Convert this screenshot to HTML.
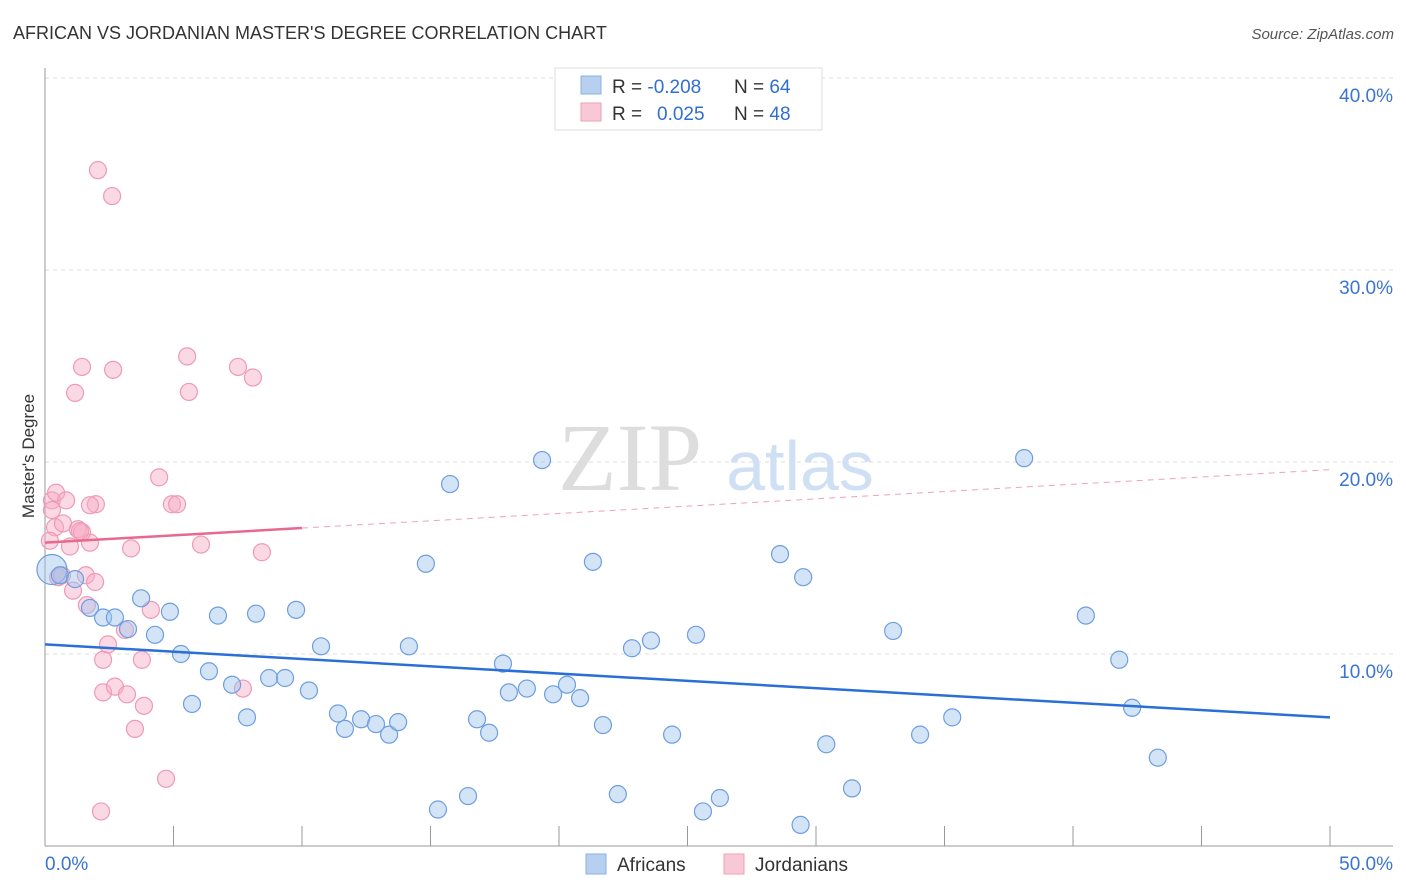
<!DOCTYPE html>
<html><head><meta charset="utf-8"><style>
body{margin:0;background:#fff;font-family:"Liberation Sans",sans-serif;}
svg{display:block}
</style></head><body>
<svg id="chart" width="1406" height="892">
<text x="13" y="39" font-size="18" fill="#333">AFRICAN VS JORDANIAN MASTER'S DEGREE CORRELATION CHART</text>
<text x="1394" y="39" font-size="15" fill="#555" font-style="italic" text-anchor="end">Source: ZipAtlas.com</text>
<g id="grid"></g>
<text x="630" y="490" font-size="96" fill="#ddd" font-family="Liberation Serif" text-anchor="middle">ZIP</text>
<text x="800" y="490" font-size="70" fill="#cfe0f4" text-anchor="middle">atlas</text>
<g id="pts"></g>
<g id="lines"></g>
<text transform="translate(34,456) rotate(-90)" font-size="17" fill="#333" text-anchor="middle">Master's Degree</text>
<g>
<rect x="555" y="68" width="267" height="62" fill="#fff" stroke="#ddd"/>
<rect x="581" y="76" width="20" height="18" fill="#b8d0f0" stroke="#8ab0e0"/>
<rect x="581" y="103" width="20" height="18" fill="#f8c8d6" stroke="#f0a0b8"/>
<text x="612" y="93" font-size="19" fill="#333">R = <tspan fill="#2f6fd0">-0.208</tspan><tspan x="734">N = </tspan><tspan fill="#2f6fd0">64</tspan></text>
<text x="612" y="120" font-size="19" fill="#333">R = <tspan x="657" fill="#2f6fd0">0.025</tspan><tspan x="734">N = </tspan><tspan fill="#2f6fd0">48</tspan></text>
</g>
<g>
<rect x="586" y="854" width="20" height="20" fill="#b8d0f0" stroke="#8ab0e0"/>
<text x="617" y="871" font-size="19" fill="#333">Africans</text>
<rect x="724" y="854" width="20" height="20" fill="#f8c8d6" stroke="#f0a0b8"/>
<text x="755" y="871" font-size="19" fill="#333">Jordanians</text>
</g>
</svg>
<script>
const xTicks=[0,5,10,15,20,25,30,35,40,45,50];
const yTicks=[10,20,30,40];
const yTickLabels=["10.0%","20.0%","30.0%","40.0%"];
const xEndLabels=["0.0%","50.0%"];
const africanX=[0.27,0.58,1.17,1.75,2.26,2.72,3.23,3.74,4.28,4.86,5.29,5.72,6.38,6.73,7.28,7.86,8.21,8.72,9.34,9.77,10.27,10.74,11.40,11.67,12.30,12.88,13.39,13.74,14.16,14.82,15.29,15.76,16.46,16.81,17.28,17.82,18.05,18.75,19.34,19.77,20.31,20.82,21.32,21.71,22.29,22.84,23.58,24.40,25.33,25.60,26.26,28.6,29.4,29.5,30.4,31.4,33.0,34.05,35.3,38.1,40.5,41.8,42.3,43.3];
const africanY=[14.4,14.1,13.9,12.4,11.9,11.9,11.3,12.9,11.0,12.2,10.0,7.4,9.1,12.0,8.4,6.7,12.1,8.75,8.75,12.3,8.1,10.4,6.9,6.1,6.6,6.35,5.8,6.45,10.4,14.7,1.9,18.85,2.6,6.6,5.9,9.5,8.0,8.2,20.1,7.9,8.4,7.7,14.8,6.3,2.7,10.3,10.7,5.8,11.0,1.8,2.5,15.2,1.1,14.0,5.3,3.0,11.2,5.8,6.7,20.2,12.0,9.7,7.2,4.6];
const jordanX=[2.06,2.61,0.27,0.43,0.82,0.39,0.70,0.97,1.28,1.75,1.98,1.75,1.44,0.51,0.66,1.09,1.59,1.95,1.63,2.26,2.45,2.26,2.72,3.11,3.19,3.50,3.77,3.85,4.12,4.44,4.94,5.14,4.71,2.18,1.17,1.44,2.65,5.53,5.60,7.51,8.09,6.07,7.70,8.44,3.35,0.19,0.27,1.36];
const jordanY=[35.2,33.85,18.0,18.4,18.0,16.6,16.8,15.6,16.5,15.8,17.8,17.75,16.35,14.0,14.1,13.3,14.1,13.75,12.55,9.7,10.5,8.0,8.3,11.25,7.9,6.1,9.7,7.3,12.3,19.2,17.8,17.8,3.5,1.8,23.6,24.95,24.8,25.5,23.65,24.95,24.4,15.7,8.2,15.3,15.5,15.9,17.5,16.4];
const africanTrend=[10.5,6.7];
const jordanTrend=[15.8,19.6];
const X=v=>45+v/50*1285, Y=v=>846-v*19.2;
const NS="http://www.w3.org/2000/svg";
function mk(t,a,p){const e=document.createElementNS(NS,t);for(const k in a)e.setAttribute(k,a[k]);p.appendChild(e);return e;}
const g=document.getElementById('grid');
yTicks.forEach((v,i)=>{
 const l=mk('line',{x1:45,x2:1393,y1:Y(v),y2:Y(v),stroke:'#ddd','stroke-dasharray':'4,4'},g);
 
 
 const t=mk('text',{x:1393,y:Y(v)+24,'font-size':19,fill:'#3a75d0','text-anchor':'end'},g);t.textContent=yTickLabels[i];
 
 
});
mk('line',{x1:45,x2:45,y1:68,y2:846,stroke:'#999'},g);
mk('line',{x1:45,x2:1393,y1:846,y2:846,stroke:'#999'},g);
xTicks.forEach(v=>{const l=mk('line',{x1:X(v),x2:X(v),y1:826,y2:846,stroke:'#999'},g);
 
 });
const t0=mk('text',{x:45,y:870,'font-size':19,fill:'#3a75d0'},g);t0.textContent=xEndLabels[0];


const t1=mk('text',{x:1393,y:870,'font-size':19,fill:'#3a75d0','text-anchor':'end'},g);t1.textContent=xEndLabels[1];


const p=document.getElementById('pts');
jordanX.forEach((x,i)=>{const c=mk('circle',{cx:X(x),cy:Y(jordanY[i]),r:8.5,fill:'rgba(246,170,196,0.45)',stroke:'#ee9ab6','stroke-width':1.2},p);
 
 });
africanX.forEach((x,i)=>{const c=mk('circle',{cx:X(x),cy:Y(africanY[i]),r:i==0?15:8.5,fill:'rgba(160,195,238,0.45)',stroke:'#6d9ee0','stroke-width':1.2},p);
 
 });
const L=document.getElementById('lines');
const a=mk('line',{x1:X(0),y1:Y(africanTrend[0]),x2:X(50),y2:Y(africanTrend[1]),stroke:'#2a6fd6','stroke-width':2.5},L);


const jy=x=>jordanTrend[0]+(jordanTrend[1]-jordanTrend[0])*x/50;
const j1=mk('line',{x1:X(0),y1:Y(jy(0)),x2:X(10),y2:Y(jy(10)),stroke:'#e8688f','stroke-width':2.5},L);


const j2=mk('line',{x1:X(10),y1:Y(jy(10)),x2:X(50),y2:Y(jy(50)),stroke:'#f0a0b8','stroke-width':1,'stroke-dasharray':'6,5'},L);


</script>
</body></html>
